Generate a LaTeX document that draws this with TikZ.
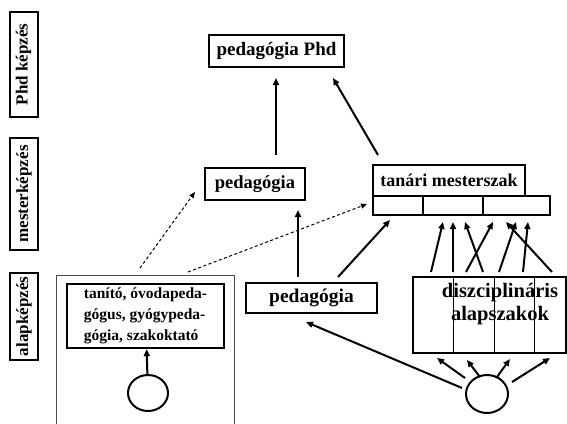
\documentclass[tikz,border=0pt]{standalone}
\usepackage{fontspec}
\setmainfont{Liberation Serif}
\usetikzlibrary{arrows.meta,shapes.geometric}
\begin{document}
\begin{tikzpicture}[x=1pt,y=-1pt,
  box/.style={draw, line width=2.4pt, inner sep=0pt},
  side/.style={draw, line width=2pt, inner sep=0pt, rotate=90, minimum height=28pt, font=\bfseries\fontsize{17}{19}\selectfont},
  arr/.style={line width=2pt, -{Triangle[length=7pt,width=6pt]}},
  darr/.style={line width=1pt, dash pattern=on 3pt off 2.5pt, -{Triangle[length=6pt,width=5pt]}},
  circ/.style={draw, ellipse, line width=2pt, inner sep=0pt}]
\useasboundingbox (0,0) rectangle (567,423);
% side labels
\node[side, minimum width=105pt] (phdL) at (23.5,64.5) {Phd képzés};
\node[side, minimum width=112pt] (mesL) at (24,194) {mesterképzés};
\node[side, minimum width=87pt] (alapL) at (24,316.5) {alapképzés};
% left big open box
\draw[line width=0.9pt, draw=black!70] (56,424) -- (56,275) -- (234,275) -- (234,424);
\coordinate (lbtop1) at (140,268);
\coordinate (lbtop2) at (188,272);
% boxes
\node[box, minimum width=135pt, minimum height=32pt, font=\bfseries\fontsize{19}{21}\selectfont] (phd) at (276.5,51) {pedagógia Phd};
\node[box, minimum width=100pt, minimum height=32pt, font=\bfseries\fontsize{18.5}{21}\selectfont] (ped2) at (255,184) {pedagógia};
\draw[line width=1.6pt] (373,196) rectangle (550,215);
\draw[line width=1.2pt] (423,196) -- (423,215) (483,196) -- (483,215);
\node[box, minimum width=152pt, minimum height=31pt, fill=white, font=\bfseries\fontsize{18}{20}\selectfont] (tan) at (449,180.5) {tanári mesterszak};
\node[box, minimum width=131pt, minimum height=30pt, font=\bfseries\fontsize{19.5}{21}\selectfont] (ped1) at (311.5,298) {pedagógia};
\node[box, minimum width=157pt, minimum height=64pt, align=left, font=\bfseries\fontsize{15.5}{19}\selectfont] (tanito) at (145.5,316) {tanító, óvodapeda-\\[2pt]gógus, gyógypeda-\\[2pt]gógia, szakoktató};
\node[box, minimum width=153pt, minimum height=76pt] (disz) at (489.5,315) {};
\draw[line width=0.8pt] (453,277) -- (453,353) (494,277) -- (494,353) (534,277) -- (534,353);
\node[font=\bfseries\fontsize{20.5}{23}\selectfont, align=center, inner sep=0pt] (disztxt) at (500,304) {diszciplináris\\alapszakok};
% circles
\node[circ, minimum width=40pt, minimum height=36pt] (c1) at (148,393) {};
\node[circ, minimum width=42pt, minimum height=38pt] (c2) at (487,394) {};
% arrows
\draw[arr] (c1) -- (tanito);
\coordinate (p1up) at (298,277);
\coordinate (p2bot) at (298,210);
\draw[arr] (p1up) -- (p2bot);
\coordinate (p2up) at (276,155);
\coordinate (phdbot) at (276,78);
\draw[arr] (p2up) -- (phdbot);
\coordinate (tanA) at (378,155);
\coordinate (phdB) at (333,78);
\draw[arr] (tanA) -- (phdB);
\coordinate (p1a) at (338,277);
\coordinate (p1b) at (390,220);
\draw[arr] (p1a) -- (p1b);
\coordinate (c2p) at (462,388);
\coordinate (ped1t) at (306,322);
\draw[arr] (c2p) -- (ped1t);
\coordinate (p2dl) at (195,192);
\coordinate (rowdl) at (367,204);
\draw[darr] (lbtop1) -- (p2dl);
\draw[darr] (lbtop2) -- (rowdl);
% disz up arrows
\foreach \a/\b in {431/443, 453/453, 483/465, 466/493, 499/516, 523/528, 552/506}{
  \draw[arr] (\a,272) -- (\b,222);
}
% c2 to disz
\draw[arr] (465,378) -- (437,358);
\draw[arr] (480,377) -- (467,360);
\draw[arr] (497,377) -- (510,359);
\draw[arr] (512,382) -- (550,358);
\end{tikzpicture}
\end{document}
